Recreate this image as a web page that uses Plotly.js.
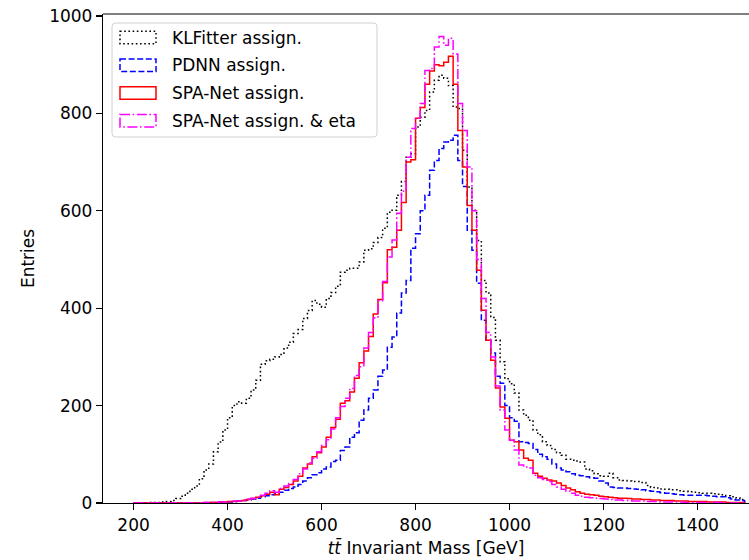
<!DOCTYPE html>
<html><head><meta charset="utf-8">
<script src="https://cdn.plot.ly/plotly-3.0.1.min.js"></script>
<style>html,body{margin:0;padding:0;overflow:hidden;background:#fff}</style>
</head><body><div id="chart" style="width:749px;height:560px"></div>
<script>
// histogram bins: 10 GeV wide, from 200 to 1500 GeV
const binStart = 200;
const binWidth = 10;
const seriesNames = ["KLFitter assign.", "PDNN assign.", "SPA-Net assign.", "SPA-Net assign. & eta"];
const klfitter = [
  0,0,0,1,1,1,2,3,5,9,
  14,20,28,35,50,68,80,105,125,150,
  175,200,208,205,215,232,252,285,292,295,
  300,305,318,330,348,356,379,395,416,408,
  402,420,432,445,474,478,482,482,495,519,
  522,535,545,564,597,601,632,660,710,717,
  772,792,806,844,868,878,872,857,813,810,
  724,649,601,539,457,431,381,334,290,255,
  245,226,191,180,170,150,140,126,118,110,
  103,98,90,88,86,84,70,66,60,56,
  55,61,52,47,46,45,44,44,42,36,
  32,31,29,28,27,27,25,24,23,22,
  21,20,20,19,18,17,15,13,11,7];
const pdnn = [
  0,0,0,0,0,0,0,0,0,0,
  0,0,0,0,0,0,1,1,1,2,
  2,3,4,5,6,8,10,13,15,17,
  20,22,26,30,33,38,45,52,58,62,
  70,74,85,88,108,115,135,144,170,191,
  215,232,260,273,320,341,390,431,457,523,
  553,600,632,683,703,728,741,745,755,703,
  650,560,519,451,375,334,308,260,246,200,
  175,168,126,124,122,110,100,95,90,80,
  72,68,64,60,57,56,54,52,51,45,
  41,33,32,31,31,30,29,28,27,25,
  24,23,21,20,19,18,17,16,16,16,
  16,16,15,14,13,13,11,8,6,5];
const spanet = [
  0,0,0,0,0,0,0,0,0,0,
  0,0,0,0,0,1,1,1,2,2,
  3,3,4,5,7,9,12,15,18,22,
  17,28,32,38,45,55,72,80,95,103,
  115,135,155,172,205,210,228,256,288,312,
  342,388,418,452,520,525,560,617,700,705,
  790,812,860,887,900,898,905,917,860,765,
  690,611,560,478,396,334,293,236,197,174,
  129,126,109,92,88,61,55,51,47,45,
  41,36,31,27,23,20,18,17,16,14,
  13,12,11,10,10,9,8,8,7,7,
  6,6,5,5,5,4,4,4,3,3,
  3,3,2,2,2,2,1,1,1,1];
const spanetEta = [
  0,0,0,0,0,0,0,0,0,0,
  0,0,0,0,0,1,1,1,2,2,
  3,4,4,6,8,10,12,16,20,25,
  22,30,35,40,48,60,70,82,92,105,
  118,130,152,175,198,215,235,262,280,318,
  350,380,415,455,505,540,595,640,710,769,
  790,820,888,892,936,958,940,954,922,820,
  765,690,600,500,420,350,300,240,191,150,
  129,109,78,74,72,57,52,48,44,38,
  33,28,24,20,16,14,12,11,10,9,
  8,7,6,6,5,5,4,4,4,3,
  3,3,2,2,2,2,2,1,1,1,
  1,1,1,1,1,1,0,0,0,0];
const xTickVals = [200,400,600,800,1000,1200,1400];
const yTickVals = [0,200,400,600,800,1000];

const colors = ["#000000", "#0000ff", "#ff0000", "#ff00ff"];
const dashes = ["1.6px,2.6px", "6px,2.6px", "solid", "10px,2.6px,1.6px,2.6px"];
const allSeries = [klfitter, pdnn, spanet, spanetEta];

function stepXY(vals) {
  const xs = [binStart], ys = [0];
  for (let i = 0; i < vals.length; i++) { xs.push(binStart + i * binWidth); ys.push(vals[i]); }
  const end = binStart + vals.length * binWidth;
  xs.push(end); ys.push(vals[vals.length - 1]);
  xs.push(end); ys.push(0);
  return {xs, ys};
}

const traces = allSeries.map((v, k) => {
  const s = stepXY(v);
  return {x: s.xs, y: s.ys, type: "scatter", mode: "lines", name: seriesNames[k],
          line: {shape: "hv", color: colors[k], width: 1.5, dash: dashes[k]},
          showlegend: false, hoverinfo: "skip"};
});

// geometry (pixels)
const L = 103, T = 14, W = 749, H = 560, B = 57;
const FONT = "DejaVu Sans, Verdana, sans-serif";
const shapes = [
  {type: "line", xref: "paper", yref: "paper", x0: 0, x1: 1, y0: 1, y1: 1, line: {color: "#000", width: 1.2}}
];
// legend box
const bx0 = 112 - L, bx1 = 377 - L, by0 = -(23 - T), by1 = -(137 - T), r = 3.5;
shapes.push({type: "path", xref: "paper", yref: "paper", xsizemode: "pixel", ysizemode: "pixel",
  xanchor: 0, yanchor: 1,
  path: `M${bx0 + r},${by0} L${bx1 - r},${by0} Q${bx1},${by0} ${bx1},${by0 - r} L${bx1},${by1 + r} Q${bx1},${by1} ${bx1 - r},${by1} L${bx0 + r},${by1} Q${bx0},${by1} ${bx0},${by1 + r} L${bx0},${by0 - r} Q${bx0},${by0} ${bx0 + r},${by0} Z`,
  fillcolor: "rgba(255,255,255,0.8)", line: {color: "#d0d0d0", width: 1}});
const rowCenters = [37.5, 65.2, 93, 120.7];
const annotations = [];
rowCenters.forEach((cy, k) => {
  shapes.push({type: "rect", xref: "paper", yref: "paper", xsizemode: "pixel", ysizemode: "pixel",
    xanchor: 0, yanchor: 1, x0: 120 - L, x1: 156 - L, y0: -(cy - 6.3 - T), y1: -(cy + 6.3 - T),
    line: {color: colors[k], width: 1.5, dash: dashes[k]}, fillcolor: "rgba(0,0,0,0)"});
  annotations.push({xref: "paper", yref: "paper", x: 0, y: 1, xshift: 170 - L, yshift: -(cy - T),
    xanchor: "left", yanchor: "middle", showarrow: false, text: seriesNames[k],
    font: {family: FONT, size: 17, color: "#000"}});
});

const layout = {
  width: W, height: H,
  margin: {l: L, r: 0, t: T, b: B, pad: 0},
  paper_bgcolor: "#fff", plot_bgcolor: "#fff",
  font: {family: FONT, size: 17, color: "#000"},
  showlegend: false,
  xaxis: {range: [135, 1509.5], tickvals: xTickVals, ticktext: xTickVals.map(String),
    ticks: "outside", ticklen: 6, tickwidth: 1.2, tickcolor: "#000",
    showline: true, linecolor: "#000", linewidth: 1.2, showgrid: false, zeroline: false,
    tickfont: {family: FONT, size: 17, color: "#000"},
    title: {text: "<i>t</i><i>t\u0304</i> Invariant Mass [GeV]", font: {family: FONT, size: 17, color: "#000"}, standoff: 8}},
  yaxis: {range: [0, 1004], tickvals: yTickVals, ticktext: yTickVals.map(String),
    ticks: "outside", ticklen: 6, tickwidth: 1.2, tickcolor: "#000",
    showline: true, linecolor: "#000", linewidth: 1.2, showgrid: false, zeroline: false,
    tickfont: {family: FONT, size: 17, color: "#000"},
    title: {text: "Entries", font: {family: FONT, size: 17, color: "#000"}, standoff: 10}},
  shapes: shapes,
  annotations: annotations
};
Plotly.newPlot("chart", traces, layout, {staticPlot: true, displayModeBar: false});
</script></body></html>
